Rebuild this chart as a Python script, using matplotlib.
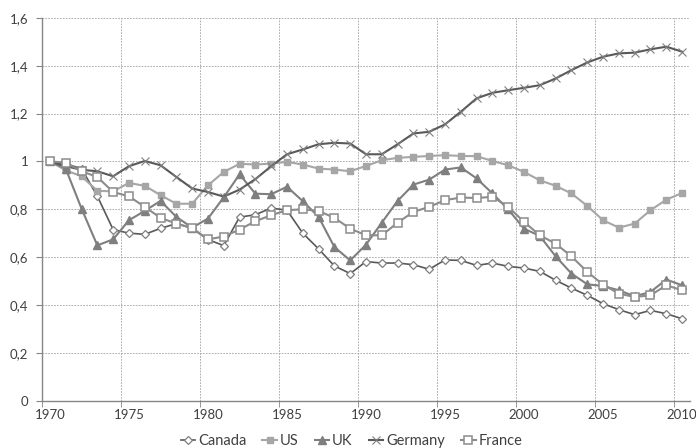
import numpy as np
import matplotlib.pyplot as plt
from matplotlib.ticker import FuncFormatter, MultipleLocator

years = list(range(1970, 2011))

canada = [1.0, 0.99, 0.97, 0.855, 0.715, 0.70, 0.695, 0.72, 0.74, 0.72,
          0.673, 0.648, 0.767, 0.777, 0.805, 0.796, 0.70, 0.634, 0.563, 0.531,
          0.581, 0.575, 0.575, 0.568, 0.549, 0.588, 0.586, 0.565, 0.575, 0.561,
          0.554, 0.540, 0.503, 0.470, 0.440, 0.405, 0.380, 0.359, 0.377, 0.363, 0.342]

us = [1.0, 0.963, 0.938, 0.877, 0.875, 0.91, 0.898, 0.859, 0.823, 0.823,
      0.90, 0.956, 0.99, 0.987, 0.991, 0.998, 0.987, 0.97, 0.966, 0.959,
      0.981, 1.005, 1.015, 1.019, 1.023, 1.026, 1.023, 1.022, 1.002, 0.984,
      0.956, 0.921, 0.898, 0.866, 0.814, 0.754, 0.723, 0.74, 0.796, 0.84, 0.868]

uk = [1.0, 0.97, 0.803, 0.649, 0.674, 0.754, 0.793, 0.835, 0.768, 0.723,
      0.761, 0.85, 0.946, 0.865, 0.863, 0.894, 0.834, 0.768, 0.642, 0.586,
      0.652, 0.744, 0.835, 0.903, 0.924, 0.966, 0.975, 0.929, 0.866, 0.799,
      0.719, 0.688, 0.603, 0.531, 0.486, 0.479, 0.461, 0.436, 0.454, 0.506, 0.482]

germany = [1.0, 0.98, 0.965, 0.959, 0.938, 0.98, 1.002, 0.984, 0.935, 0.887,
           0.872, 0.853, 0.882, 0.926, 0.98, 1.03, 1.05, 1.072, 1.078, 1.075,
           1.03, 1.03, 1.072, 1.117, 1.124, 1.155, 1.208, 1.264, 1.287, 1.298,
           1.308, 1.319, 1.347, 1.382, 1.414, 1.438, 1.452, 1.455, 1.469, 1.480, 1.459]

france = [1.0, 0.995, 0.959, 0.935, 0.872, 0.854, 0.81, 0.764, 0.74, 0.722,
          0.674, 0.686, 0.715, 0.75, 0.775, 0.796, 0.80, 0.793, 0.764, 0.719,
          0.691, 0.691, 0.744, 0.789, 0.81, 0.838, 0.849, 0.847, 0.852, 0.81,
          0.747, 0.691, 0.656, 0.603, 0.538, 0.485, 0.447, 0.433, 0.44, 0.482, 0.461]

plt.rcParams['font.family'] = ['Lato', 'DejaVu Sans']
plt.rcParams['font.size'] = 9.5

fig = plt.figure(figsize=(6.96, 4.48), dpi=100)
ax = fig.add_axes([42 / 696, 1 - 400.5 / 448, 648 / 696, 382.5 / 448])

ax.plot(years, canada, '-', color='#595959', lw=1.2, marker='D', ms=4.2,
        mfc='white', mec='#7f7f7f', mew=0.9, label='Canada')
ax.plot(years, us, '-', color='#a6a6a6', lw=1.5, marker='s', ms=5,
        mfc='#a6a6a6', mec='#a6a6a6', label='US')
ax.plot(years, uk, '-', color='#7f7f7f', lw=1.5, marker='^', ms=5.5,
        mfc='#7f7f7f', mec='#7f7f7f', label='UK')
ax.plot(years, germany, '-', color='#595959', lw=1.5, marker='x', ms=5.5,
        mec='#7f7f7f', mew=0.8, label='Germany')
ax.plot(years, france, '-', color='#8c8c8c', lw=1.5, marker='s', ms=5.5,
        mfc='white', mec='#8c8c8c', mew=1.1, label='France')

ax.set_xlim(1969.5, 2010.5)
ax.set_ylim(0, 1.6)

# labels sit on the year, grid lines between categories
ax.set_xticks(range(1970, 2011, 5))
ax.set_xticks(np.arange(1969.5, 2010, 5), minor=True)
ax.tick_params(axis='x', which='major', length=0, pad=6, colors='#404040')
ax.tick_params(axis='x', which='minor', length=4, color='#868686', direction='out')
ax.yaxis.set_major_locator(MultipleLocator(0.2))
ax.yaxis.set_major_formatter(FuncFormatter(lambda v, p: ('%g' % round(v, 2)).replace('.', ',')))
ax.tick_params(axis='y', length=4, color='#868686', colors='#404040', pad=6)

ax.grid(axis='y', which='major', color='#a0a0a0', linestyle=(0, (2, 1.5)), lw=0.6)
ax.grid(axis='x', which='minor', color='#a0a0a0', linestyle=(0, (2, 1.5)), lw=0.6)
ax.set_axisbelow(True)

for s in ['top', 'right']:
    ax.spines[s].set_visible(False)
for s in ['left', 'bottom']:
    ax.spines[s].set_color('#868686')
    ax.spines[s].set_linewidth(1)

fig.legend(loc='center', bbox_to_anchor=(0.505, 0.016), ncol=5, frameon=False,
           handlelength=1.0, handletextpad=0.2, columnspacing=1.1, fontsize=10.5,
           labelcolor='#404040')

fig.savefig('out.png', dpi=100)
